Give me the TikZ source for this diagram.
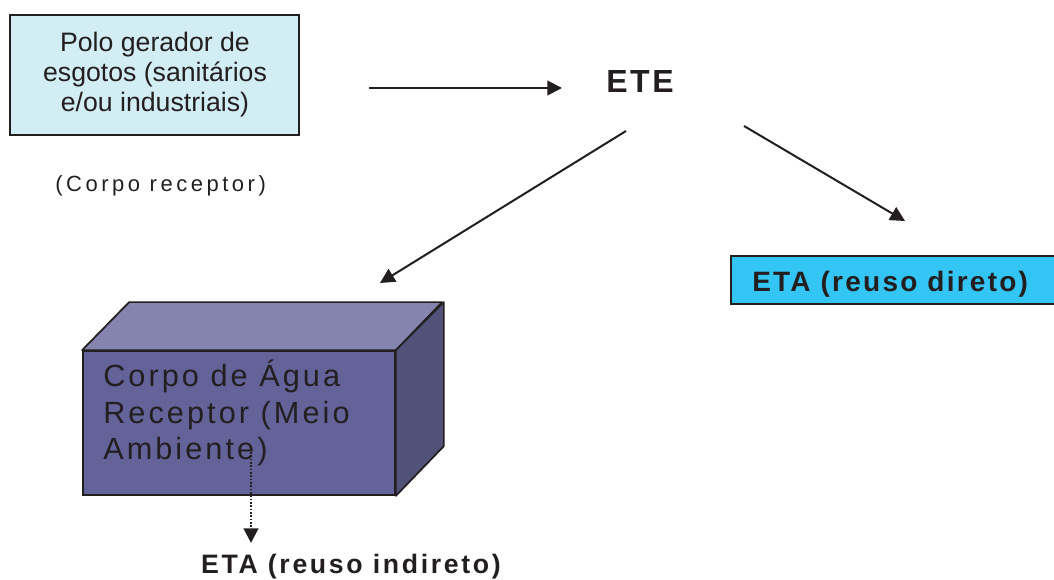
\documentclass[tikz,border=0pt]{standalone}
\usepackage{fontspec}
\setmainfont{Liberation Sans}
\newfontfamily\plainsans{Liberation Sans}
\newfontfamily\spacedsans[LetterSpace=10]{Liberation Sans}
\newfontfamily\widesans[LetterSpace=16]{Liberation Sans}
\newfontfamily\spacedbold[LetterSpace=8]{Liberation Sans Bold}
\newfontfamily\widebold[LetterSpace=10]{Liberation Sans Bold}
\usetikzlibrary{arrows.meta}
\definecolor{ink}{HTML}{231F20}
\definecolor{palecyan}{HTML}{D3EDF4}
\definecolor{brightcyan}{HTML}{33C5F3}
\definecolor{cubefront}{HTML}{63639A}
\definecolor{cubetop}{HTML}{8484AF}
\definecolor{cubeside}{HTML}{525279}
\tikzset{
  flow/.style={draw=ink, line width=1.5pt, -{Triangle[length=11pt,width=11pt]}},
  dotflow/.style={draw=ink, line width=1.6pt, dash pattern=on 1.2pt off 1.3pt,
                  -{Triangle[length=11pt,width=11pt]}},
  outline/.style={draw=ink, line width=1.3pt},
  label/.style={inner sep=0pt, text=ink},
}
\begin{document}
\begin{tikzpicture}[x=0.75pt, y=-0.75pt]
\useasboundingbox (0,0) rectangle (1054,580);

% source of sewage
\node[outline, fill=palecyan, minimum width=216.75pt, minimum height=90pt,
      inner sep=0pt] (polo) at (154.5,75) {};
\node[label, align=center, font=\plainsans\fontsize{20pt}{22.5pt}\selectfont,
      anchor=base] (polotxt) at (155,112) {Polo gerador de\\esgotos (sanitários\\e/ou industriais)};

\node[label, anchor=base west, font=\widesans\fontsize{16.5pt}{19pt}\selectfont] (corpo) at (55,192) {(Corpo receptor)};

% treatment plant
\node[label, anchor=base, font=\spacedbold\fontsize{24pt}{28pt}\selectfont] (ete) at (640,93) {ETE};

% direct reuse
\node[outline, fill=brightcyan, minimum width=245.25pt, minimum height=36pt,
      inner sep=0pt] (etad) at (894.5,280) {};
\node[label, anchor=base west, font=\spacedbold\fontsize{21pt}{24pt}\selectfont] (etadtxt) at (752,292) {ETA (reuso direto)};

% receiving water body (box in perspective)
\node[outline, fill=cubefront, minimum width=234pt, minimum height=108pt,
      inner sep=0pt] (front) at (239,423) {};
\draw[outline, fill=cubetop, line join=round] (front.north west) -- ++(47,-48) -- ++(313,0) -- (front.north east) -- cycle;
\draw[outline, fill=cubeside, line join=round] (front.north east) -- ++(48,-48) -- ++(0,144) -- (front.south east) -- cycle;
\node[label, anchor=base west, align=left, font=\spacedsans\fontsize{23pt}{27.4pt}\selectfont] (agua) at (103,460) {Corpo de Água\\Receptor (Meio\\Ambiente)};

% indirect reuse
\node[label, anchor=base, font=\widebold\fontsize{20pt}{24pt}\selectfont] (etai) at (351,574) {ETA (reuso indireto)};

% connectors
\coordinate (a1s) at (369,88);   \coordinate (a1e) at (562,88);
\coordinate (a2s) at (626,131);  \coordinate (a2e) at (380,283);
\coordinate (a3s) at (744,126);  \coordinate (a3e) at (905,221);
\coordinate (a4s) at (251,452);  \coordinate (a4e) at (251,543);
\draw[flow] (a1s) -- (a1e);
\draw[flow] (a2s) -- (a2e);
\draw[flow] (a3s) -- (a3e);
\draw[dotflow] (a4s) -- (a4e);
\end{tikzpicture}
\end{document}
